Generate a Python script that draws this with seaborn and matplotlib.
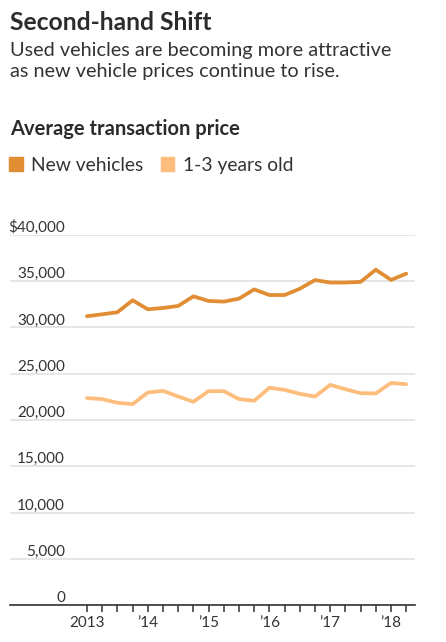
import matplotlib
matplotlib.use("Agg")
import matplotlib.pyplot as plt
import seaborn as sns
import pandas as pd
import numpy as np

# Data: quarterly, 2013 Q1 .. 2018 Q2
quarters = [2013.0 + 0.25 * i for i in range(22)]
new_vehicles = [31220, 31430, 31650, 32940, 31970, 32110, 32330, 33370,
                32870, 32800, 33120, 34120, 33510, 33510, 34190, 35130,
                34860, 34860, 34930, 36250, 35140, 35820]
used_1_3 = [22370, 22260, 21860, 21720, 22970, 23150, 22540, 21970,
            23120, 23120, 22260, 22080, 23480, 23260, 22830, 22540,
            23800, 23330, 22900, 22870, 24010, 23870]
series_names = ["New vehicles", "1-3 years old"]
series_colors = ["#E08D33", "#FDBD7C"]
y_ticks = [0, 5000, 10000, 15000, 20000, 25000, 30000, 35000, 40000]
y_labels = ["0", "5,000", "10,000", "15,000", "20,000", "25,000", "30,000", "35,000", "$40,000"]
x_major = [2013, 2014, 2015, 2016, 2017, 2018]
x_labels = ["2013", "\u201914", "\u201915", "\u201916", "\u201917", "\u201918"]

df = pd.DataFrame({
    "t": quarters * 2,
    "price": new_vehicles + used_1_3,
    "series": [series_names[0]] * len(quarters) + [series_names[1]] * len(quarters),
})

sns.set_theme(style="white")
plt.rcParams["font.family"] = ["Lato", "DejaVu Sans"]

W, H = 446, 642
fig = plt.figure(figsize=(W / 100, H / 100), dpi=100)
left, right, top, bottom = 10, 415, 235, 605
ax = fig.add_axes([left / W, 1 - bottom / H, (right - left) / W, (bottom - top) / H])

sns.lineplot(data=df, x="t", y="price", hue="series", palette=series_colors,
             hue_order=series_names, linewidth=2.7, ax=ax, legend=False)

ax.set_xlim(2013 - 77 / 60.8, 2013 + 328 / 60.8)
ax.set_ylim(0, 40000)
ax.set_xlabel("")
ax.set_ylabel("")

for s in ["top", "right", "left"]:
    ax.spines[s].set_visible(False)
ax.spines["bottom"].set_color("#333333")
ax.spines["bottom"].set_linewidth(1.2)

ax.set_yticks(y_ticks)
ax.set_yticklabels(y_labels)
ax.yaxis.grid(True, color="#e2e2e2", linewidth=1.2)
ax.set_axisbelow(True)
ax.tick_params(axis="y", length=0, pad=-39.6, labelsize=11, labelcolor="#333333")
for lab in ax.get_yticklabels():
    lab.set_verticalalignment("bottom")
    lab.set_horizontalalignment("right")

ax.set_xticks(x_major)
ax.set_xticklabels(x_labels)
ax.set_xticks(quarters, minor=True)
ax.tick_params(axis="x", which="both", direction="out", length=5, width=1.1,
               color="#333333", labelsize=11, labelcolor="#333333", pad=3, bottom=True)

# Header text
fig.text(10 / W, 1 - 11 / H, "Second-hand Shift", fontsize=17.7, fontweight="bold",
         color="#2b2b2b", va="top", ha="left")
fig.text(10 / W, 1 - 42 / H, "Used vehicles are becoming more attractive\nas new vehicle prices continue to rise.",
         fontsize=14.3, color="#333333", va="top", ha="left", linespacing=1.3)
fig.text(10 / W, 1 - 119 / H, "Average transaction price", fontsize=14.5, fontweight="bold",
         color="#2b2b2b", va="top", ha="left")

# Legend
handles = [plt.Rectangle((0, 0), 1, 1, color=c) for c in series_colors]
leg = fig.legend(handles, series_names, loc="upper left", bbox_to_anchor=(9 / W, 1 - 157 / H),
                 ncol=2, frameon=False, fontsize=13.9, handlelength=0.7, handleheight=0.7,
                 handletextpad=0.45, columnspacing=0.9, borderaxespad=0, borderpad=0)
for t in leg.get_texts():
    t.set_color("#333333")

fig.savefig("out.png", dpi=100, facecolor="white")
